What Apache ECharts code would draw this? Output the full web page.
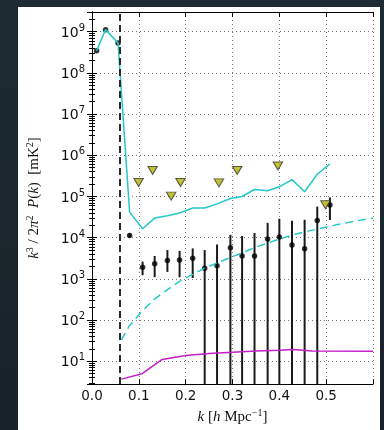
<!DOCTYPE html>
<html>
<head>
<meta charset="utf-8">
<script src="https://cdn.jsdelivr.net/npm/echarts@6/dist/echarts.min.js"></script>
<style>
  html, body { margin: 0; padding: 0; }
  body {
    width: 384px; height: 430px; overflow: hidden; position: relative;
    background: linear-gradient(180deg, #1e2b33 0%, #1a252c 60%, #17212a 100%);
  }
  .card { position: absolute; left: 18px; top: 7px; width: 362px; height: 423px; background: #fff; }
  #chart { position: absolute; left: 0; top: 0; width: 384px; height: 430px; }
</style>
</head>
<body>
<div class="card"></div>
<div id="chart"></div>
<script>
// k bins of the measured power spectrum
const kMain = [0.0098, 0.029, 0.0556, 0.0803, 0.108, 0.1338, 0.161, 0.187, 0.215, 0.2406,
  0.267, 0.2955, 0.3205, 0.347, 0.375, 0.400, 0.427, 0.454, 0.481, 0.508];
// measured points (black dots)
const power = [3.43e8, 1.12e9, 5.33e8, 11350, 1905, 2320, 2780, 2880, 3160, 1820,
  2075, 5690, 3600, 3600, 9330, 10350, 6610, 5430, 26000, 62200];
// error bars, null = runs off the bottom of the plot
const errLow = [null, null, null, 10100, 1230, 1100, 1480, 1100, 1050, null,
  null, null, null, null, null, null, null, null, null, 26900];
const errHigh = [null, null, null, 12700, 2630, 3600, 5010, 4790, 5500, 5010,
  6840, 11750, 10960, 13030, 22900, 28840, 25700, 27230, 56900, 95100];
// cyan solid line
const cyanSolid = [3.43e8, 1.12e9, 5.33e8, 41700, 16500, 29900, 33900, 39800, 52500, 52500,
  66100, 89100, 100000, 148000, 138000, 172000, 257000, 130000, 347000, 617000];

// cyan dashed curve
const kModel = [0.0626, 0.0803, 0.108, 0.1338, 0.161, 0.187, 0.215, 0.2406, 0.267, 0.2955,
  0.3205, 0.347, 0.375, 0.400, 0.427, 0.454, 0.481, 0.508, 0.535, 0.56, 0.6];
const cyanDashed = [33, 74, 170, 324, 550, 870, 1290, 1820, 2450, 3310,
  4270, 5750, 7410, 9330, 11500, 13800, 16200, 19100, 21900, 25100, 29900];

// magenta line
const kNoise = [0.0626, 0.107, 0.15, 0.2, 0.25, 0.30, 0.35, 0.40, 0.43, 0.47, 0.6];
const magenta = [3.7, 5.0, 11.1, 13.8, 15.5, 16.6, 17.8, 18.6, 19.3, 17.8, 17.6];

// upper limits (yellow triangles)
const kLimit = [0.0996, 0.1295, 0.169, 0.189, 0.271, 0.31, 0.397, 0.4985];
const upperLimits = [219000, 427000, 102000, 219000, 214000, 427000, 550000, 63100];

const kCut = 0.062;
const xTicks = ['0.0', '0.1', '0.2', '0.3', '0.4', '0.5'];

const X_MIN = 0, X_MAX = 0.6;
const Y_MIN = 2.8, Y_MAX = 3e9;

const zip = (xs, ys) => xs.map((x, i) => [x, ys[i]]);
const errData = kMain.map((k, i) => [k, errLow[i] == null ? Y_MIN : errLow[i], errHigh[i]])
  .filter((d, i) => errHigh[i] != null);

const serif = '"Liberation Serif", "DejaVu Serif", serif';
const sans = '"DejaVu Sans", sans-serif';
const nameRich = {
  i: { fontFamily: serif, fontStyle: 'italic', fontSize: 15, color: '#111', verticalAlign: 'bottom' },
  r: { fontFamily: serif, fontSize: 15, color: '#111', verticalAlign: 'bottom' },
  s: { fontFamily: serif, fontSize: 10, color: '#111', verticalAlign: 'bottom', padding: [0, 0, 7, 0] },
};

function powLabel(v) {
  const lg = Math.log10(v);
  const e = Math.round(lg);
  if (Math.abs(lg - e) > 1e-6) return '';
  return '{b|10}{s|' + e + '}';
}

const chart = echarts.init(document.getElementById('chart'));
const tickIn = { show: true, inside: true, length: 5, lineStyle: { color: '#000', width: 1 } };
const minorIn = { show: true, splitNumber: 9, length: 3, lineStyle: { color: '#000', width: 1 } };
const gridLine = { show: true, lineStyle: { color: '#777', width: 1, type: [1, 3] } };

chart.setOption({
  animation: false,
  grid: { left: 92, top: 12, right: 11, bottom: 41 },
  xAxis: [{
    type: 'value', min: X_MIN, max: X_MAX, interval: 0.1,
    axisLine: { lineStyle: { color: '#000', width: 1 } },
    axisTick: tickIn,
    axisLabel: {
      fontFamily: sans, fontSize: 13.5, color: '#111', margin: 5,
      formatter: (v) => xTicks[Math.round(v * 10)] || ''
    },
    splitLine: gridLine,
    name: '{i|k}{r| [}{i|h}{r| Mpc}{s|−1}{r|]}',
    nameLocation: 'middle', nameGap: 21,
    nameTextStyle: { rich: nameRich }
  }, {
    type: 'value', position: 'top', min: X_MIN, max: X_MAX, interval: 0.1,
    axisLine: { show: true, lineStyle: { color: '#000', width: 1 } },
    axisTick: tickIn, axisLabel: { show: false }, splitLine: { show: false }
  }],
  yAxis: [{
    type: 'log', min: Y_MIN, max: Y_MAX, logBase: 10,
    axisLine: { show: true, lineStyle: { color: '#000', width: 1 } },
    axisTick: tickIn,
    minorTick: minorIn,
    axisLabel: {
      margin: 7, formatter: powLabel,
      rich: {
        b: { fontFamily: sans, fontSize: 14, color: '#111', verticalAlign: 'bottom' },
        s: { fontFamily: sans, fontSize: 10, color: '#111', verticalAlign: 'bottom', padding: [0, 0, 7, 0] }
      }
    },
    splitLine: gridLine,
    name: '{i|k}{s|3}{r| / 2}{i|π}{s|2}{r|  }{i|P}{r|(}{i|k}{r|)  [mK}{s|2}{r|]}',
    nameLocation: 'middle', nameGap: 50, nameRotate: 90,
    nameTextStyle: { rich: nameRich }
  }, {
    type: 'log', position: 'right', min: Y_MIN, max: Y_MAX, logBase: 10,
    axisLine: { show: true, lineStyle: { color: '#000', width: 1 } },
    axisTick: tickIn, minorTick: minorIn,
    axisLabel: { show: false }, splitLine: { show: false }
  }],
  series: [
    {
      type: 'line', data: zip(kNoise, magenta), symbol: 'none',
      lineStyle: { color: '#c41fc8', width: 1.5 },
      markLine: {
        silent: true, symbol: 'none', label: { show: false },
        lineStyle: { color: '#2a2a2a', width: 2, type: [7, 4] },
        data: [{ xAxis: kCut }]
      }
    },
    {
      type: 'line', data: zip(kModel, cyanDashed), symbol: 'none',
      lineStyle: { color: '#22c8c8', width: 1.5, type: [8, 5] }
    },
    {
      type: 'line', data: zip(kMain, cyanSolid), symbol: 'none',
      lineStyle: { color: '#22c8c8', width: 1.5 }
    },
    {
      type: 'custom', data: errData, encode: { x: 0, y: [1, 2] },
      renderItem: (params, api) => {
        const p1 = api.coord([api.value(0), api.value(1)]);
        const p2 = api.coord([api.value(0), api.value(2)]);
        return {
          type: 'line',
          shape: { x1: p1[0], y1: p1[1], x2: p2[0], y2: p2[1] },
          style: { stroke: '#1a1a1a', lineWidth: 2 }
        };
      }
    },
    {
      type: 'scatter', data: zip(kMain, power), symbol: 'circle', symbolSize: 5.5,
      itemStyle: { color: '#000' }
    },
    {
      type: 'scatter', data: zip(kLimit, upperLimits), symbol: 'triangle', symbolRotate: 180,
      symbolSize: [9.5, 8],
      itemStyle: { color: '#b3b300', borderColor: '#333', borderWidth: 1 }
    }
  ]
});
</script>
</body>
</html>
